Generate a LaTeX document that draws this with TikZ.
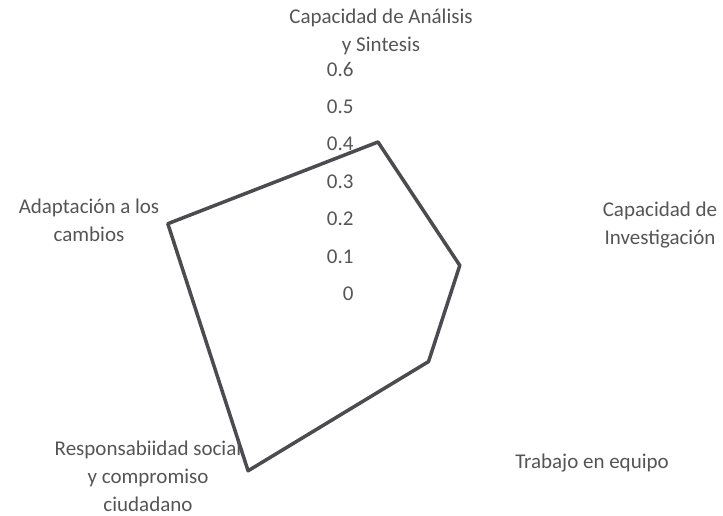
\documentclass[tikz,border=0pt]{standalone}
\usepackage{fontspec}
\setmainfont{Carlito}
\usetikzlibrary{positioning}
\definecolor{labelgray}{RGB}{85,85,85}
\definecolor{linegray}{RGB}{75,75,80}
\tikzset{
  axislabel/.style={text=labelgray,font=\fontsize{21}{28}\selectfont,align=center},
  ticklabel/.style={text=labelgray,font=\fontsize{21}{28}\selectfont,anchor=east},
  serie/.style={draw=linegray,line width=3.5pt,line join=round}
}

\begin{document}
\begin{tikzpicture}[x=1pt,y=1pt]
\useasboundingbox (-378,-223) rectangle (345,292);
\foreach \t/\n in {0/0,0.1/1,0.2/2,0.3/3,0.4/4,0.5/5,0.6/6}
  \node[ticklabel] (v\n) at (-21,\n*37.5-2) {\t};
\coordinate (p1) at (90:150);
\coordinate (p2) at (18:86);
\coordinate (p3) at (-54:86);
\coordinate (p4) at (-126:221);
\coordinate (p5) at (162:221);
\draw[serie] (p1) -- (p2) -- (p3) -- (p4) -- (p5) -- cycle;
\node[axislabel] (analisis) at (3,260) {Capacidad de Análisis\\y Sintesis};
\node[axislabel] (investigacion) at (282,67) {Capacidad de\\Investigación};
\node[axislabel] (equipo) at (214,-171) {Trabajo en equipo};
\node[axislabel] (responsabilidad) at (-230,-184) {Responsabiidad social\\y compromiso\\ciudadano};
\node[axislabel] (adaptacion) at (-289,72) {Adaptación a los\\cambios};
\end{tikzpicture}
\end{document}
